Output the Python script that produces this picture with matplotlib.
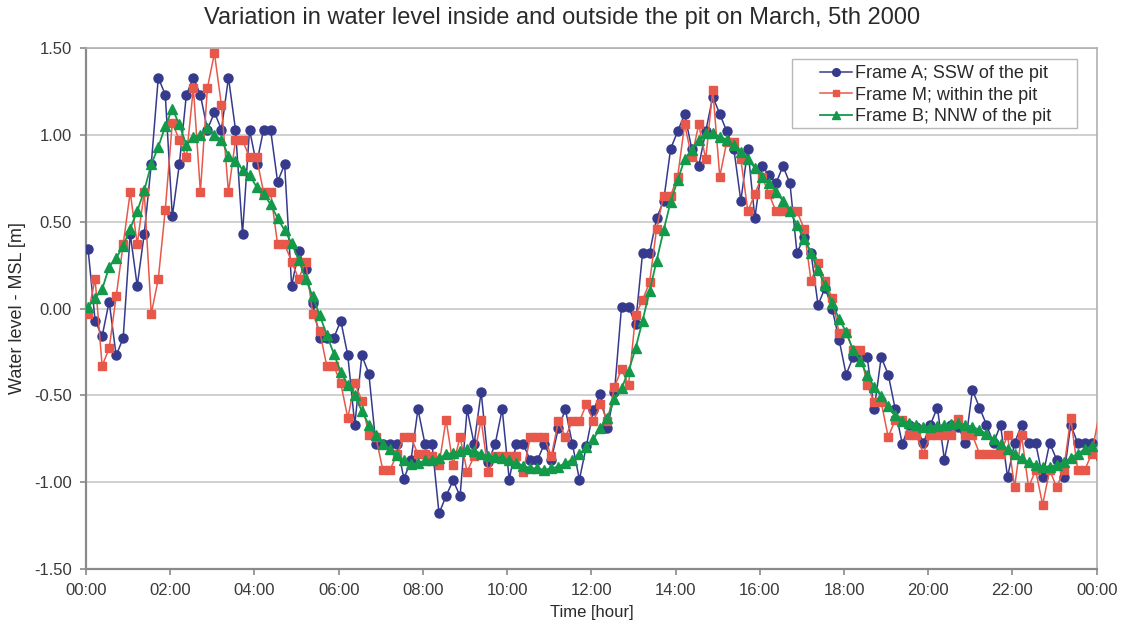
import numpy as np
import matplotlib
matplotlib.use("Agg")
import matplotlib.pyplot as plt
from matplotlib.patches import Rectangle

plt.rcParams['font.family'] = ['Liberation Sans', 'DejaVu Sans']

# 10-minute readings, first one a few minutes after midnight
start_min = 3
step_min = 10

frame_a = [0.34, -0.07, -0.16, 0.04, -0.27, -0.17, 0.43, 0.13, 0.43, 0.83,
           1.33, 1.23, 0.53, 0.83, 1.23, 1.33, 1.23, 1.03, 1.13, 1.03,
           1.33, 1.03, 0.43, 1.03, 0.83, 1.03, 1.03, 0.73, 0.83, 0.13,
           0.33, 0.23, 0.03, -0.17, -0.17, -0.17, -0.07, -0.27, -0.67, -0.27,
           -0.375, -0.78, -0.78, -0.78, -0.78, -0.98, -0.875, -0.58, -0.78, -0.78,
           -1.18, -1.08, -0.99, -1.08, -0.58, -0.78, -0.48, -0.885, -0.78, -0.58,
           -0.985, -0.78, -0.78, -0.875, -0.875, -0.78, -0.87, -0.69, -0.58, -0.78,
           -0.985, -0.79, -0.585, -0.49, -0.69, -0.48, 0.01, 0.01, -0.09, 0.32,
           0.32, 0.52, 0.62, 0.92, 1.02, 1.12, 0.92, 0.82, 1.02, 1.22,
           1.12, 1.02, 0.92, 0.62, 0.92, 0.52, 0.82, 0.77, 0.72, 0.82,
           0.72, 0.32, 0.41, 0.32, 0.02, 0.12, 0.0, -0.18, -0.38, -0.28,
           -0.28, -0.28, -0.58, -0.28, -0.38, -0.58, -0.78, -0.67, -0.68, -0.775,
           -0.67, -0.57, -0.87, -0.67, -0.68, -0.775, -0.47, -0.57, -0.67, -0.775,
           -0.67, -0.97, -0.775, -0.67, -0.775, -0.775, -0.97, -0.775, -0.87, -0.97,
           -0.67, -0.775, -0.775, -0.775, -0.9]

frame_m = [-0.03, 0.17, -0.33, -0.23, 0.07, 0.37, 0.67, 0.37, 0.67, -0.03,
           0.17, 0.57, 1.07, 0.97, 0.87, 1.27, 0.67, 1.27, 1.47, 1.17,
           0.67, 0.97, 0.97, 0.87, 0.87, 0.67, 0.67, 0.37, 0.37, 0.27,
           0.17, 0.27, -0.03, -0.13, -0.33, -0.33, -0.43, -0.63, -0.43, -0.53,
           -0.73, -0.74, -0.93, -0.93, -0.84, -0.74, -0.74, -0.84, -0.84, -0.85,
           -0.9, -0.64, -0.9, -0.74, -0.94, -0.85, -0.64, -0.94, -0.85, -0.85,
           -0.85, -0.85, -0.94, -0.74, -0.74, -0.74, -0.85, -0.65, -0.74, -0.65,
           -0.65, -0.55, -0.65, -0.55, -0.65, -0.45, -0.35, -0.44, -0.04, 0.05,
           0.15, 0.46, 0.65, 0.65, 0.76, 1.06, 0.87, 1.06, 0.86, 1.26,
           0.76, 0.96, 0.96, 0.86, 0.56, 0.66, 0.76, 0.66, 0.56, 0.56,
           0.56, 0.56, 0.46, 0.16, 0.26, 0.16, 0.06, -0.14, -0.14, -0.24,
           -0.24, -0.44, -0.54, -0.54, -0.74, -0.64, -0.64, -0.73, -0.73, -0.835,
           -0.73, -0.73, -0.73, -0.73, -0.635, -0.73, -0.73, -0.835, -0.835, -0.835,
           -0.835, -0.73, -1.03, -0.73, -1.03, -0.93, -1.13, -0.93, -1.03, -0.93,
           -0.63, -0.93, -0.93, -0.835, -0.62]

frame_b = [0.01, 0.06, 0.11, 0.24, 0.29, 0.36, 0.46, 0.56, 0.68, 0.83,
           0.93, 1.05, 1.15, 1.06, 0.94, 0.99, 1.00, 1.04, 1.00, 0.97,
           0.88, 0.85, 0.80, 0.77, 0.70, 0.66, 0.60, 0.52, 0.45, 0.375,
           0.28, 0.17, 0.07, -0.04, -0.15, -0.26, -0.365, -0.44, -0.50, -0.59,
           -0.67, -0.73, -0.78, -0.81, -0.845, -0.875, -0.895, -0.89, -0.875, -0.87,
           -0.86, -0.84, -0.83, -0.82, -0.81, -0.82, -0.835, -0.85, -0.855, -0.86,
           -0.875, -0.89, -0.905, -0.92, -0.92, -0.93, -0.92, -0.91, -0.89, -0.87,
           -0.84, -0.80, -0.75, -0.69, -0.63, -0.52, -0.46, -0.36, -0.23, -0.07,
           0.10, 0.275, 0.45, 0.615, 0.74, 0.86, 0.91, 0.97, 1.01, 1.01,
           0.99, 0.97, 0.94, 0.90, 0.86, 0.81, 0.76, 0.725, 0.67, 0.62,
           0.56, 0.48, 0.40, 0.32, 0.22, 0.135, 0.03, -0.06, -0.135, -0.24,
           -0.30, -0.385, -0.45, -0.505, -0.56, -0.615, -0.645, -0.66, -0.67, -0.68,
           -0.68, -0.675, -0.67, -0.665, -0.66, -0.67, -0.68, -0.70, -0.72, -0.75,
           -0.78, -0.81, -0.84, -0.86, -0.885, -0.90, -0.91, -0.91, -0.90, -0.885,
           -0.86, -0.835, -0.81, -0.79, -0.78]

hour_ticks = [0, 2, 4, 6, 8, 10, 12, 14, 16, 18, 20, 22, 24]
hour_labels = ['00:00', '02:00', '04:00', '06:00', '08:00', '10:00', '12:00',
               '14:00', '16:00', '18:00', '20:00', '22:00', '00:00']
level_ticks = [-1.5, -1.0, -0.5, 0.0, 0.5, 1.0, 1.5]

t = (start_min + step_min * np.arange(len(frame_b))) / 60.0
# the last reading falls just past midnight: show only its connecting line
inside = t <= 24

fig = plt.figure(figsize=(11.24, 6.3), dpi=100)
ax = fig.add_axes([0.0765, 0.0968, 0.8992, 0.827])

series = [
    (frame_a, '#353a8c', 'o', 6.5, 1.1, 'Frame A; SSW of the pit'),
    (frame_m, '#e8584a', 's', 6.0, 1.1, 'Frame M; within the pit'),
    (frame_b, '#13994a', '^', 6.5, 1.3, 'Frame B; NNW of the pit'),
]
for z, (vals, col, mk, ms, lw, name) in enumerate(series):
    vals = np.array(vals)
    ax.plot(t, vals, color=col, linewidth=lw, zorder=3 + z)
    ax.plot(t[inside], vals[inside], color=col, linestyle='none', marker=mk,
            markersize=ms, zorder=3 + z)
    # legend proxy
    ax.plot([], [], color=col, linewidth=lw, marker=mk, markersize=ms - 1,
            label=name)

ax.set_xlim(0, 24)
ax.set_ylim(-1.5, 1.5)
ax.set_xticks(hour_ticks)
ax.set_xticklabels(hour_labels)
ax.set_yticks(level_ticks)
ax.set_yticklabels(['%.2f' % v for v in level_ticks])

ax.yaxis.grid(True, color='#c8c8c8', linewidth=1.2)
ax.set_axisbelow(True)
for side in ['left', 'bottom']:
    ax.spines[side].set_color('#8a8a8a')
    ax.spines[side].set_linewidth(1.6)
for side in ['top', 'right']:
    ax.spines[side].set_color('#b0b0b0')
    ax.spines[side].set_linewidth(1.2)
ax.tick_params(colors='#8a8a8a', labelcolor='#3a3a3a', labelsize=12,
               length=4, width=1.2, pad=6)

fig.suptitle('Variation in water level inside and outside the pit on March, 5th 2000',
             x=0.5, y=0.972, va='center', fontsize=17, color='#2a2a2a')
ax.set_xlabel('Time [hour]', fontsize=12, color='#2a2a2a', labelpad=5)
ax.set_ylabel('Water level - MSL [m]', fontsize=13, color='#2a2a2a', labelpad=6)

# legend box drawn separately so it can be wider than the entries
ax.add_patch(Rectangle((0.6985, 0.8464), 0.282, 0.1325, transform=ax.transAxes,
                       facecolor='white', edgecolor='#b8b8b8', linewidth=1.0,
                       zorder=6))
leg = ax.legend(loc='upper left', bbox_to_anchor=(0.726, 0.967), fontsize=13,
                frameon=False, handlelength=1.8, borderpad=0, labelspacing=0.25,
                handletextpad=0.15, borderaxespad=0)
leg.set_zorder(7)
for txt in leg.get_texts():
    txt.set_color('#2a2a2a')

fig.savefig('out.png', dpi=100)
